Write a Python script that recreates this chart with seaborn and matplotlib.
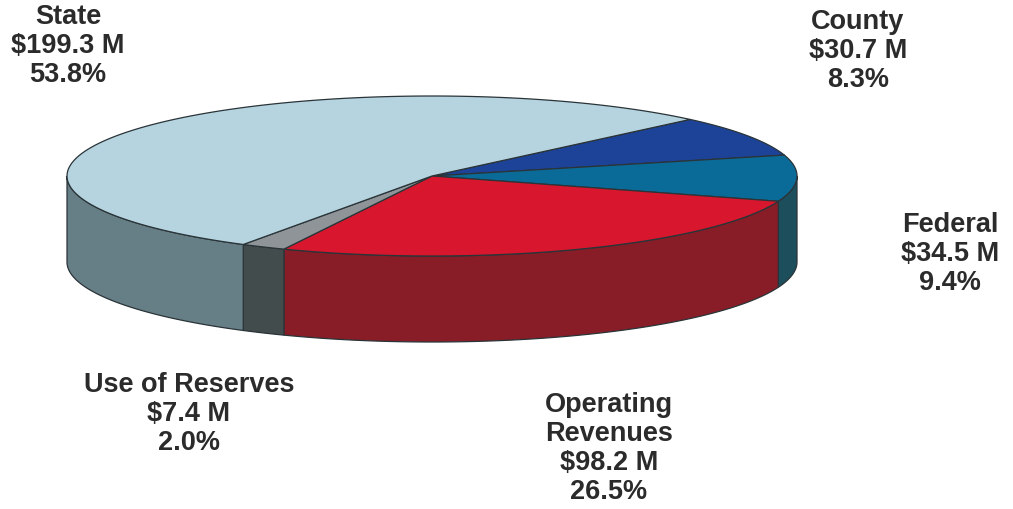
import numpy as np
import matplotlib
matplotlib.use("Agg")
import matplotlib.pyplot as plt
from matplotlib.patches import Polygon
import seaborn as sns

# Funding sources (millions of dollars), in drawing order, clockwise from the start angle
sources = ["County", "Federal", "Operating Revenues", "Use of Reserves", "State"]
amounts = [30.7, 34.5, 98.2, 7.4, 199.3]
amount_labels = ["$30.7 M", "$34.5 M", "$98.2 M", "$7.4 M", "$199.3 M"]
pct_labels = ["8.3%", "9.4%", "26.5%", "2.0%", "53.8%"]

top_colors = ["#1d4398", "#0b6b98", "#d8162d", "#8e9498", "#b5d4df"]
side_colors = ["#14295e", "#1d4e5c", "#881c27", "#434c4c", "#667e86"]

sns.set_theme(style="white")
plt.rcParams["font.family"] = ["Liberation Sans", "DejaVu Sans"]

W, H = 1013, 510
fig = plt.figure(figsize=(W / 100, H / 100), dpi=100)
ax = fig.add_axes([0, 0, 1, 1])
ax.set_xlim(0, W)
ax.set_ylim(H, 0)
ax.axis("off")

# Ellipse geometry of the tilted pie (pixel units)
cx, cy, rx, ry, depth = 432, 177, 365, 80, 86
start = 45.0
edge = "#2a3438"


def arc(t0, t1, n=120):
    t = np.radians(np.linspace(t0, t1, n))
    return cx + rx * np.cos(t), cy - ry * np.sin(t)


fracs = np.array(amounts) / np.sum(amounts)
bounds = start - np.concatenate([[0], np.cumsum(fracs) * 360])

# Outer walls: only the front half (angles between -180 and 0) is visible
for i in range(len(amounts)):
    hi, lo = bounds[i], bounds[i + 1]
    lo_c, hi_c = max(lo, -180.0), min(hi, 0.0)
    if hi_c <= lo_c:
        continue
    xs, ys = arc(hi_c, lo_c)
    pts = np.column_stack([np.r_[xs, xs[::-1]], np.r_[ys, ys[::-1] + depth]])
    ax.add_patch(Polygon(pts, closed=True, facecolor=side_colors[i],
                         edgecolor=edge, linewidth=0.9, zorder=1))

# Top face wedges
for i in range(len(amounts)):
    hi, lo = bounds[i], bounds[i + 1]
    xs, ys = arc(hi, lo)
    pts = np.column_stack([np.r_[cx, xs], np.r_[cy, ys]])
    ax.add_patch(Polygon(pts, closed=True, facecolor=top_colors[i],
                         edgecolor=edge, linewidth=0.9, zorder=2))

# Labels
label_pos = {
    "State": (68, 17),
    "County": (858, 22),
    "Federal": (950, 225),
    "Use of Reserves": (189, 385),
    "Operating Revenues": (609, 405),
}
line_gap = 29
for name, amt, pct in zip(sources, amount_labels, pct_labels):
    x, y0 = label_pos[name]
    lines = (["Operating", "Revenues"] if name == "Operating Revenues" else [name]) + [amt, pct]
    for k, line in enumerate(lines):
        ax.text(x, y0 + k * line_gap, line, ha="center", va="center",
                fontsize=19.5, fontweight="bold", color="#2b2b2b")

fig.savefig("out.png", dpi=100, facecolor="white")
